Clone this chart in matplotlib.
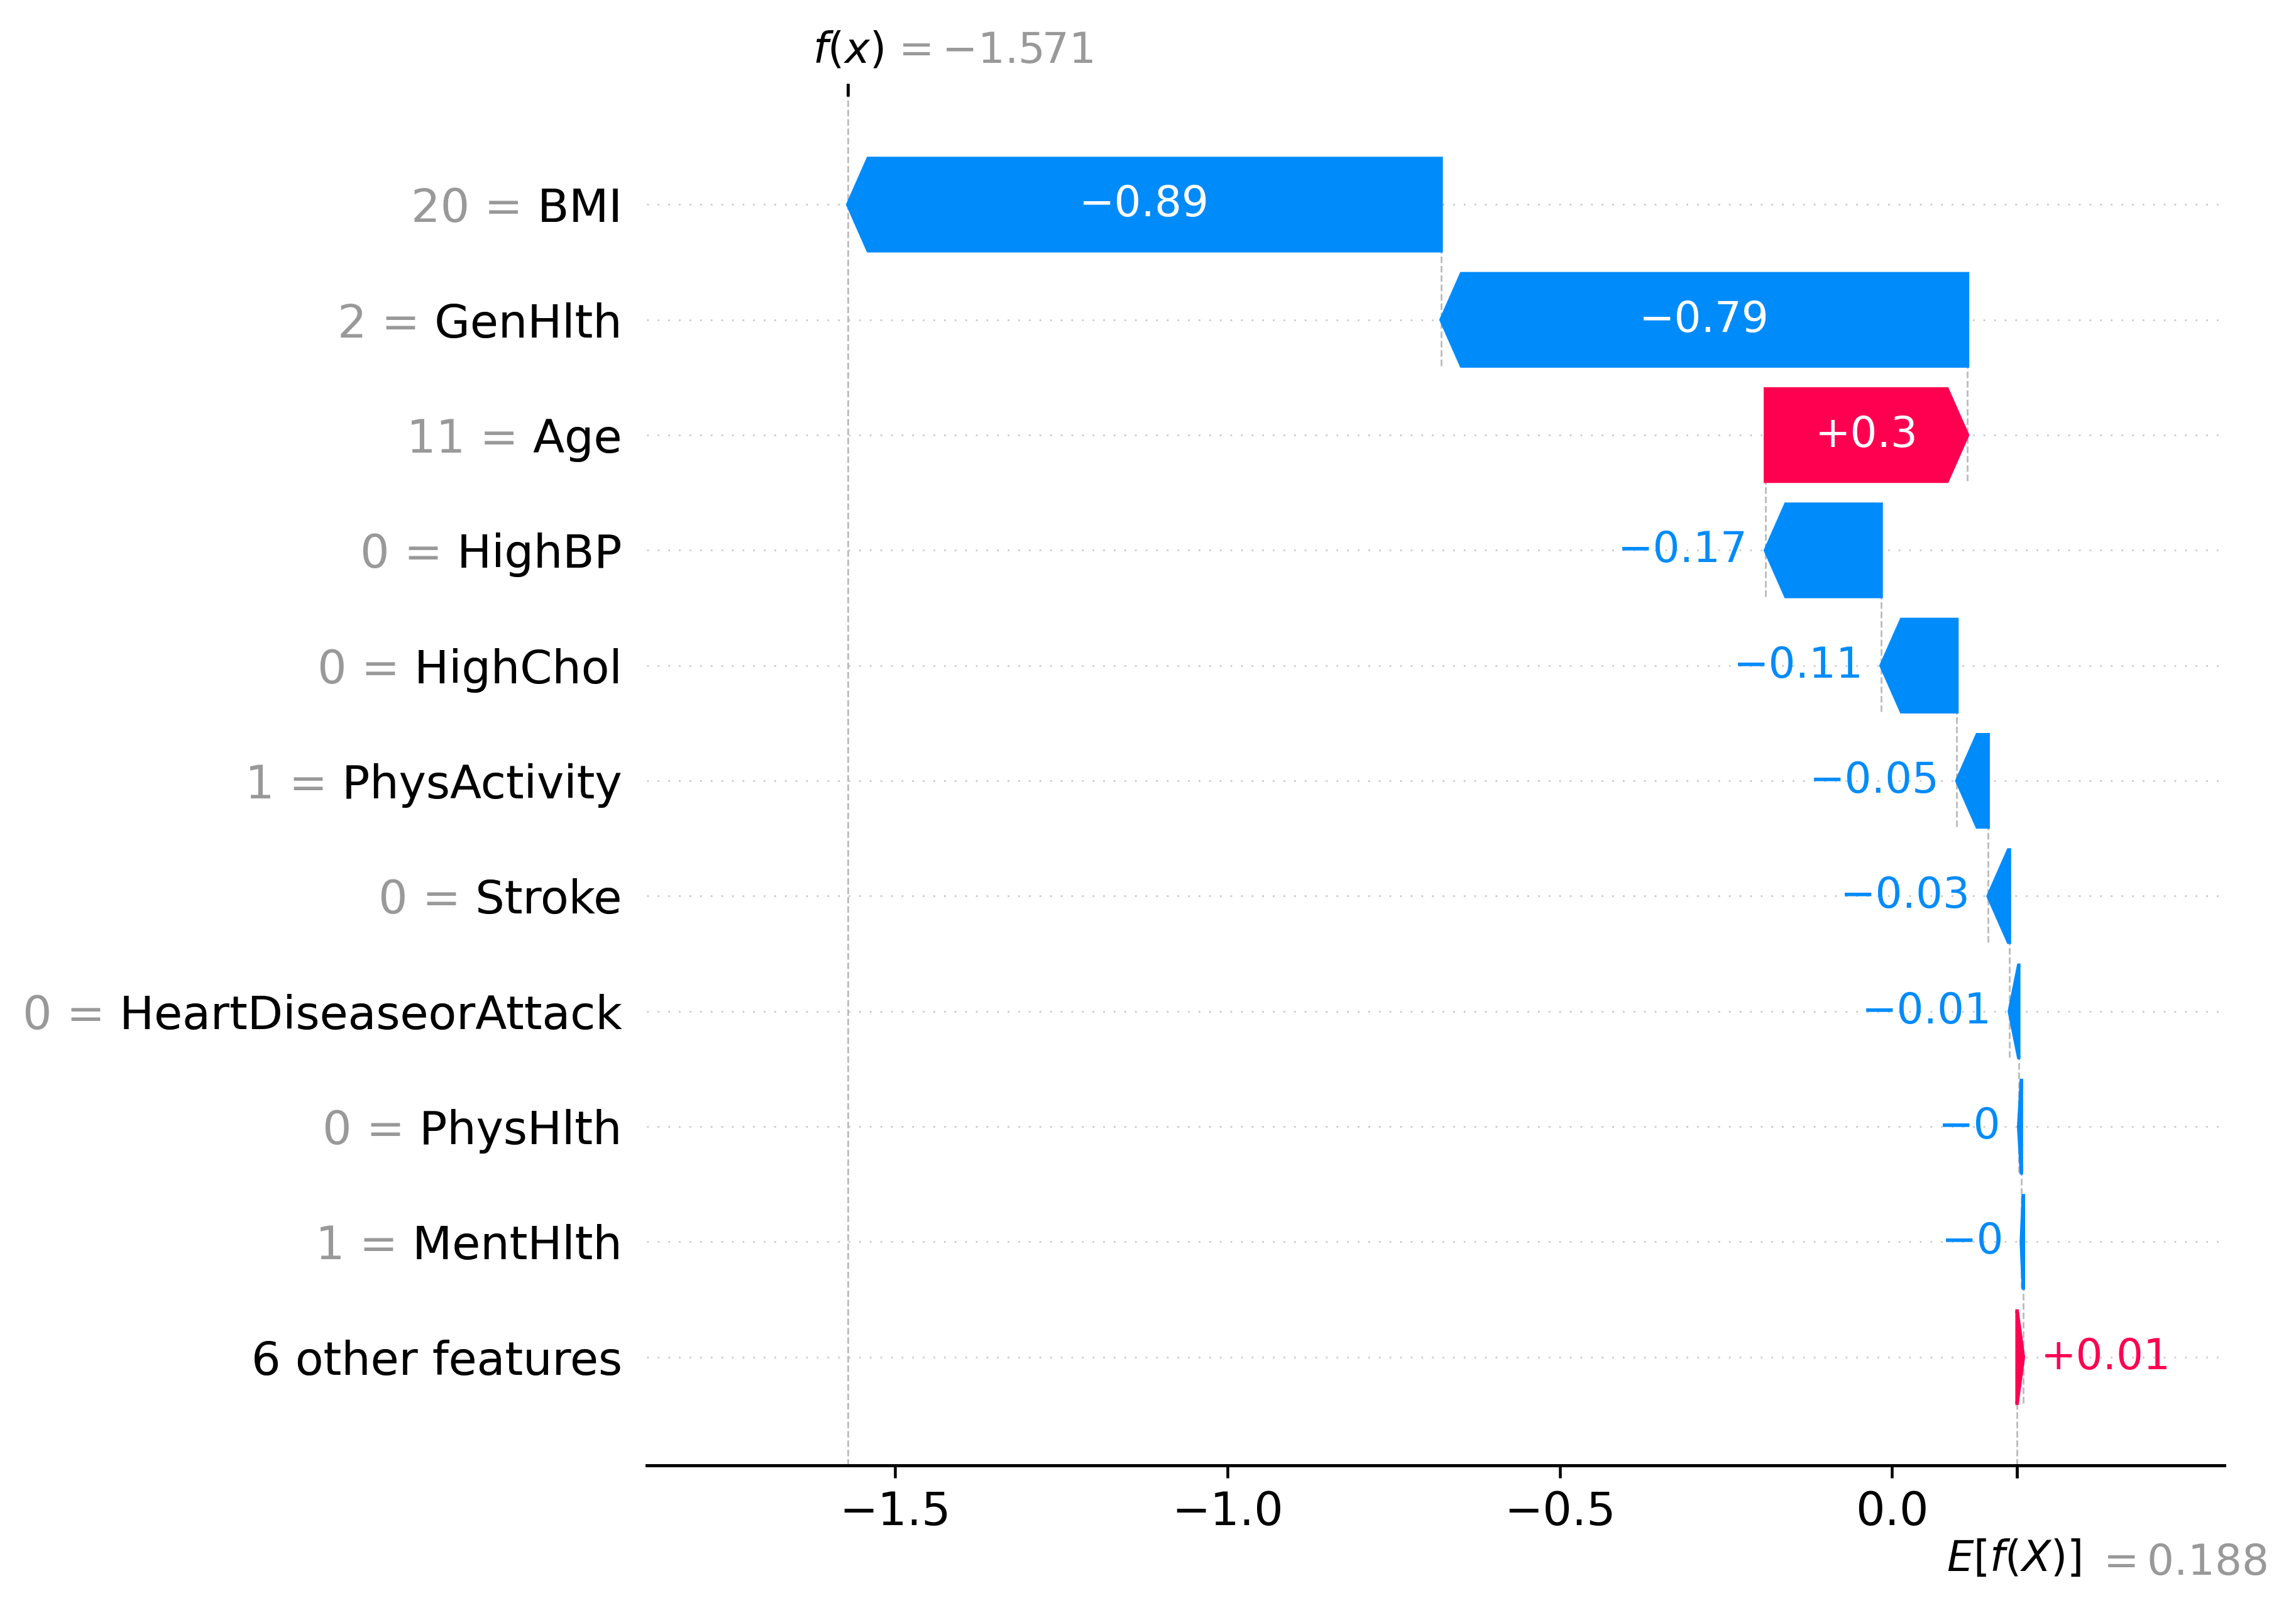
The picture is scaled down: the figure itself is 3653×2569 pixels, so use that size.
import re
import numpy as np
import matplotlib
matplotlib.use("Agg")
import matplotlib.pyplot as plt
import matplotlib.transforms as mtransforms

# ---------------- data ----------------
feature_names = ["BMI", "GenHlth", "Age", "HighBP", "HighChol", "PhysActivity",
                 "Stroke", "HeartDiseaseorAttack", "PhysHlth", "MentHlth"]
feature_values = [20, 2, 11, 0, 0, 1, 0, 0, 0, 1]
shap_vals = [-0.8926, -0.792, 0.304, -0.174, -0.114, -0.047,
             -0.032, -0.014, -0.004, -0.003]
n_other_features = 6
other_impact = 0.0094
base_value = 0.188

red_rgb = np.array([1.0, 0.0, 0.31796406])
blue_rgb = np.array([0.0, 0.54337757, 0.98337906])

W, H, DPI = 3653, 2569, 405


def format_value(s, fmt):
    if not isinstance(s, str):
        s = fmt % s
    s = re.sub(r"\.?0+$", "", s)
    if s[0] == "-":
        s = "\u2212" + s[1:]
    return s


fig = plt.figure(figsize=(W / DPI, H / DPI), dpi=DPI)
ax = fig.add_axes([0.2817, 0.0926, 0.6871, 0.8478])
plt.sca(ax)

values = np.array(shap_vals)
num_individual = len(values)
num_features = num_individual + 1
rng = list(range(num_features - 1, -1, -1))

pos_lefts, pos_inds, pos_widths = [], [], []
neg_lefts, neg_inds, neg_widths = [], [], []
fx = base_value + values.sum() + other_impact
loc = fx
yticklabels = ["" for _ in range(num_features + 1)]

for i in range(num_individual):
    sval = values[i]
    loc -= sval
    if sval >= 0:
        pos_inds.append(rng[i]); pos_widths.append(sval); pos_lefts.append(loc)
    else:
        neg_inds.append(rng[i]); neg_widths.append(sval); neg_lefts.append(loc)
    plt.plot([loc, loc], [rng[i] - 1 - 0.4, rng[i] + 0.4],
             color="#bbbbbb", linestyle="--", linewidth=0.5, zorder=-1)
    yticklabels[rng[i]] = format_value(float(feature_values[i]), "%0.03f") + " = " + feature_names[i]

yticklabels[0] = "%d other features" % n_other_features
remaining_impact = base_value - loc
if remaining_impact < 0:
    pos_inds.append(0); pos_widths.append(-remaining_impact); pos_lefts.append(loc + remaining_impact)
else:
    neg_inds.append(0); neg_widths.append(-remaining_impact); neg_lefts.append(loc + remaining_impact)

points = pos_lefts + list(np.array(pos_lefts) + np.array(pos_widths)) + \
    neg_lefts + list(np.array(neg_lefts) + np.array(neg_widths))
dataw = np.max(points) - np.min(points)

label_padding = np.array([0.1 * dataw if w < 1 else 0 for w in pos_widths])
plt.barh(pos_inds, np.array(pos_widths) + label_padding + 0.02 * dataw,
         left=np.array(pos_lefts) - 0.01 * dataw, color=red_rgb, alpha=0)
label_padding = np.array([-0.1 * dataw if -w < 1 else 0 for w in neg_widths])
plt.barh(neg_inds, np.array(neg_widths) + label_padding - 0.02 * dataw,
         left=np.array(neg_lefts) + 0.01 * dataw, color=blue_rgb, alpha=0)

head_length = 0.08
bar_width = 0.8
xlen = plt.xlim()[1] - plt.xlim()[0]
bbox = ax.get_window_extent().transformed(fig.dpi_scale_trans.inverted())
bbox_to_xscale = xlen / bbox.width
hl_scaled = bbox_to_xscale * head_length
renderer = fig.canvas.get_renderer()

for i in range(len(pos_inds)):
    dist = pos_widths[i]
    arrow_obj = plt.arrow(pos_lefts[i], pos_inds[i], max(dist - hl_scaled, 0.000001), 0,
                          head_length=min(dist, hl_scaled), color=red_rgb,
                          width=bar_width, head_width=bar_width)
    txt_obj = plt.text(pos_lefts[i] + 0.5 * dist, pos_inds[i],
                       format_value(pos_widths[i], "%+0.02f"),
                       horizontalalignment="center", verticalalignment="center",
                       color="white", fontsize=12)
    tb = txt_obj.get_window_extent(renderer=renderer)
    ab = arrow_obj.get_window_extent(renderer=renderer)
    if tb.width > ab.width:
        txt_obj.remove()
        plt.text(pos_lefts[i] + (5 / 72) * bbox_to_xscale + dist, pos_inds[i],
                 format_value(pos_widths[i], "%+0.02f"),
                 horizontalalignment="left", verticalalignment="center",
                 color=red_rgb, fontsize=12)

for i in range(len(neg_inds)):
    dist = neg_widths[i]
    arrow_obj = plt.arrow(neg_lefts[i], neg_inds[i], -max(-dist - hl_scaled, 0.000001), 0,
                          head_length=min(-dist, hl_scaled), color=blue_rgb,
                          width=bar_width, head_width=bar_width)
    txt_obj = plt.text(neg_lefts[i] + 0.5 * dist, neg_inds[i],
                       format_value(neg_widths[i], "%+0.02f"),
                       horizontalalignment="center", verticalalignment="center",
                       color="white", fontsize=12)
    tb = txt_obj.get_window_extent(renderer=renderer)
    ab = arrow_obj.get_window_extent(renderer=renderer)
    if tb.width > ab.width:
        txt_obj.remove()
        plt.text(neg_lefts[i] - (5 / 72) * bbox_to_xscale + dist, neg_inds[i],
                 format_value(neg_widths[i], "%+0.02f"),
                 horizontalalignment="right", verticalalignment="center",
                 color=blue_rgb, fontsize=12)

ytick_pos = list(range(num_features)) + list(np.arange(num_features) + 1e-8)
plt.yticks(ytick_pos, yticklabels[:-1] + [lab.split("=")[-1] for lab in yticklabels[:-1]], fontsize=13)

for i in range(num_features):
    plt.axhline(i, color="#cccccc", lw=0.5, dashes=(1, 5), zorder=-1)

plt.axvline(base_value, 0, 1 / num_features, color="#bbbbbb", linestyle="--", linewidth=0.5, zorder=-1)
plt.axvline(fx, 0, 1, color="#bbbbbb", linestyle="--", linewidth=0.5, zorder=-1)

ax.xaxis.set_ticks_position("bottom")
ax.yaxis.set_ticks_position("none")
ax.spines["right"].set_visible(False)
ax.spines["top"].set_visible(False)
ax.spines["left"].set_visible(False)
ax.tick_params(labelsize=13)

xmin, xmax = ax.get_xlim()
ax2 = ax.twiny()
ax2.set_xlim(xmin, xmax)
ax2.xaxis.tick_bottom()
ax2.set_xticks([base_value, base_value + 1e-8])
ax2.set_xticklabels(["\n$E[f(X)]$", "\n$ = " + format_value(base_value, "%0.03f") + "$"],
                    fontsize=12, ha="left")
ax2.spines["right"].set_visible(False)
ax2.spines["top"].set_visible(False)
ax2.spines["left"].set_visible(False)

ax3 = ax2.twiny()
ax3.set_xlim(xmin, xmax)
ax3.xaxis.tick_top()
ax3.set_xticks([fx, fx + 1e-8])
ax3.set_xticklabels(["$f(x)$", "$ = " + format_value(fx, "%0.03f") + "$"], fontsize=12, ha="left")
tl = ax3.xaxis.get_majorticklabels()
tl[0].set_transform(tl[0].get_transform() + mtransforms.ScaledTranslation(-10 / 72., 0, fig.dpi_scale_trans))
tl[1].set_transform(tl[1].get_transform() + mtransforms.ScaledTranslation(12 / 72., 0, fig.dpi_scale_trans))
tl[1].set_color("#999999")
ax3.spines["right"].set_visible(False)
ax3.spines["top"].set_visible(False)
ax3.spines["left"].set_visible(False)

tl = ax2.xaxis.get_majorticklabels()
tl[0].set_transform(tl[0].get_transform() + mtransforms.ScaledTranslation(-20 / 72., 0, fig.dpi_scale_trans))
tl[1].set_transform(tl[1].get_transform() + mtransforms.ScaledTranslation(22 / 72., -1 / 72., fig.dpi_scale_trans))
tl[1].set_color("#999999")

tl = ax.yaxis.get_majorticklabels()
for i in range(num_features):
    tl[i].set_color("#999999")

fig.savefig("out.png", dpi=DPI)
